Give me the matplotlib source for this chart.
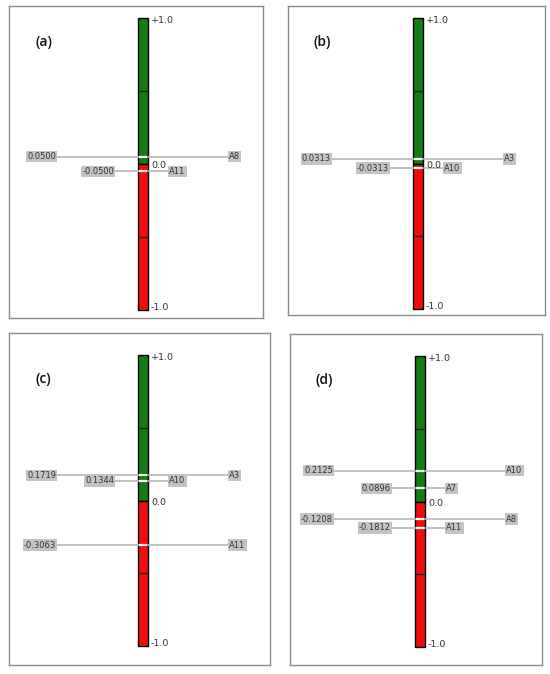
import matplotlib.pyplot as plt

# chart values
panel_labels = ['(a)', '(b)', '(c)', '(d)']
values_a = [0.0500, -0.0500]
names_a = ['A8', 'A11']
values_b = [0.0313, -0.0313]
names_b = ['A3', 'A10']
values_c = [0.1719, 0.1344, -0.3063]
names_c = ['A3', 'A10', 'A11']
values_d = [0.2125, 0.0896, -0.1208, -0.1812]
names_d = ['A10', 'A7', 'A8', 'A11']
scale_ticks = [1.0, 0.0, -1.0]
scale_labels = ['+1.0', '0.0', '-1.0']

# layout in figure pixels: frame (left, top, right, bottom), bar left x, bar top y, bar bottom y
W, H = 550, 674
layouts = [
    ((9, 6, 263, 318), 138, 18, 310),
    ((288, 6, 545, 315), 413, 18, 309),
    ((9, 333, 270, 665), 138, 355, 646),
    ((290, 334, 542, 665), 415, 356, 647),
]
panels = [(values_a, names_a), (values_b, names_b), (values_c, names_c), (values_d, names_d)]

GREEN = '#137c13'
RED = '#f20d0d'
LINE = '#b8b8b8'
BOX = '#c4c4c4'
TXT = '#333333'
BAR_W = 10

fig = plt.figure(figsize=(W / 100, H / 100), dpi=100)

for (frame, bx, by0, by1), (vals, names), plab in zip(layouts, panels, panel_labels):
    fl, ft, fr, fb = frame
    ax = fig.add_axes([fl / W, 1 - fb / H, (fr - fl) / W, (fb - ft) / H])
    s = (by1 - by0) / 2.0
    zero_px = (by0 + by1) / 2.0
    ax.set_xlim(0, fr - fl)
    ax.set_ylim(-(fb - zero_px) / s, (zero_px - ft) / s)
    ax.set_xticks([])
    ax.set_yticks([])
    for sp in ax.spines.values():
        sp.set_color('#8c8c8c')
        sp.set_linewidth(1)

    x0 = bx - fl
    xc = x0 + BAR_W / 2
    ax.bar(xc, 1.0, bottom=0, width=BAR_W, color=GREEN, edgecolor='black', linewidth=1, zorder=2)
    ax.bar(xc, -1.0, bottom=0, width=BAR_W, color=RED, edgecolor='black', linewidth=1, zorder=2)
    ax.hlines([0.5, -0.5], x0, x0 + BAR_W, color='#222222', linewidth=1, zorder=3)

    # scale labels sit a little inside the bar ends
    for t, lab in zip(scale_ticks, scale_labels):
        dy = {1.0: -0.015, 0.0: -0.012, -1.0: 0.02}[t]
        ax.text(x0 + BAR_W + 3, t + dy, lab, fontsize=6.8, color=TXT,
                ha='left', va='center', zorder=5)

    ax.text(26, 1.0 - 24 / s, plab, fontsize=10, fontweight='semibold',
            family='Open Sans', color='#111111', ha='left', va='center')

    for i, (v, n) in enumerate(zip(vals, names)):
        if i % 2 == 0:
            la, lb = x0 - 82, x0 + 91
        else:
            la, lb = x0 - 24, x0 + 31
        ax.hlines(v, la, lb, color=LINE, linewidth=1.2, zorder=4)
        ax.hlines(v, x0 + 1, x0 + BAR_W - 1, color='white', linewidth=1.6, zorder=4)
        bb = dict(boxstyle='square,pad=0.15', facecolor=BOX, edgecolor='none')
        ax.text(la, v, f'{v:.4f}', fontsize=6, color=TXT, ha='right', va='center',
                bbox=bb, zorder=5)
        ax.text(lb, v, n, fontsize=6, color=TXT, ha='left', va='center',
                bbox=bb, zorder=5)

fig.savefig('out.png', dpi=100)
